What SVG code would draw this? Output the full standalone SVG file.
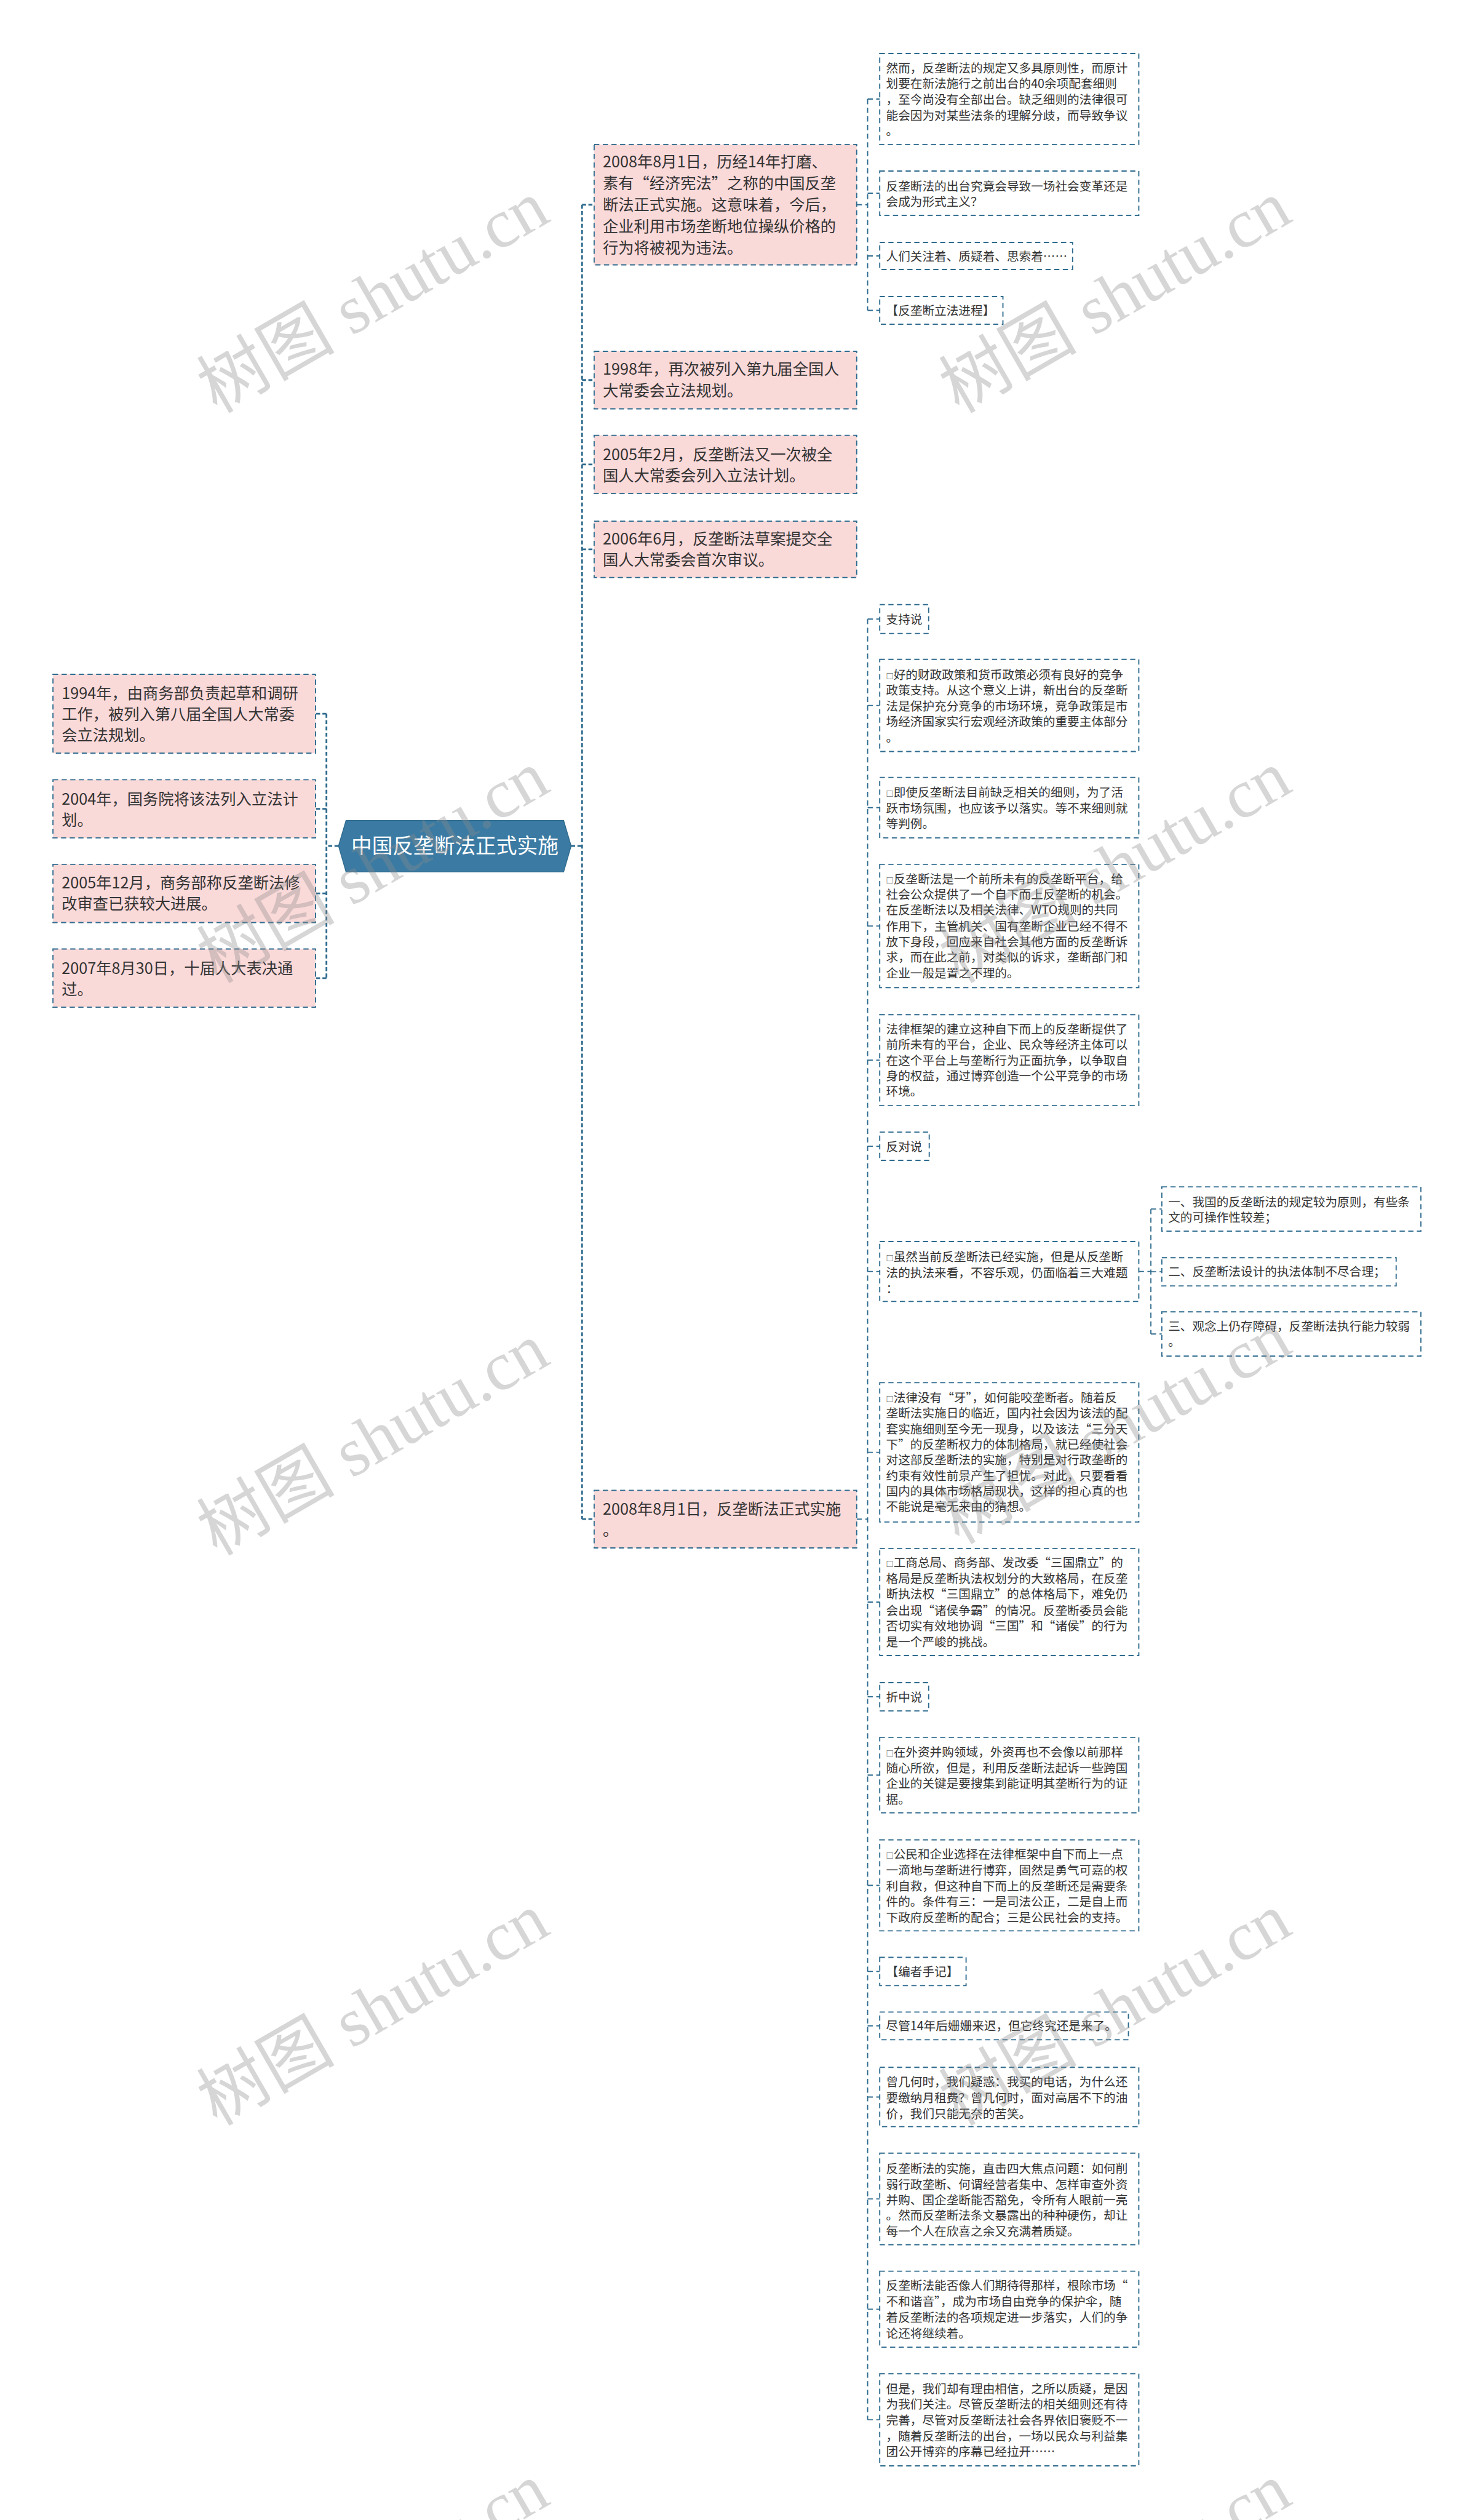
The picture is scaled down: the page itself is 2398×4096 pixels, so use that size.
<svg xmlns="http://www.w3.org/2000/svg" width="2398" height="4096" viewBox="0 0 2398 4096">
<style>
.t{font-family:"Noto Sans CJK SC","Noto Sans",sans-serif;fill:#333333;font-size:21px}
.t1{font-size:27px}
.sq{font-size:13px}
.rt{font-family:"Noto Sans CJK SC","Noto Sans",sans-serif;fill:#ffffff;font-size:36px;text-anchor:middle}
.b{fill:#ffffff;stroke:#2e6b8e;stroke-width:2;stroke-dasharray:9 6}
.p{fill:#fad9d9}
.c{fill:none;stroke:#2e6b8e;stroke-width:2;stroke-dasharray:9 6}
.c1{stroke-width:3;stroke-dasharray:7 4}
.wm{font-family:"Liberation Serif","Noto Sans CJK SC",serif;font-size:120px;fill:#8c8c8c;opacity:0.35;text-anchor:middle}
</style>
<rect x="0" y="0" width="2398" height="4096" fill="#ffffff"/>
<g transform="scale(0.936)">
<g id="connectors">
<path class="c c1" d="M588 1469 H567 M567 1239.5 V1698.5 M567 1239.5 H548 M567 1404.5 H548 M567 1551.5 H548 M567 1698.5 H548"/>
<path class="c c1" d="M992 1469 H1011 M1011 355.5 V2638 M1011 355.5 H1032 M1011 660 H1032 M1011 806.5 H1032 M1011 954 H1032 M1011 2638 H1032"/>
<path class="c" d="M1488 355.5 H1507 M1507 172 V539 M1507 172 H1528 M1507 335.5 H1528 M1507 444.5 H1528 M1507 539 H1528"/>
<path class="c" d="M1488 2638 H1507 M1507 1075 V4202 M1507 1075 H1528 M1507 1225 H1528 M1507 1402.5 H1528 M1507 1608 H1528 M1507 1841 H1528 M1507 1990.5 H1528 M1507 2208 H1528 M1507 2522 H1528 M1507 2782 H1528 M1507 2946.5 H1528 M1507 3082.5 H1528 M1507 3274 H1528 M1507 3423.5 H1528 M1507 3518 H1528 M1507 3641.5 H1528 M1507 3818.5 H1528 M1507 4010 H1528 M1507 4202 H1528"/>
<path class="c" d="M1978 2208 H1999 M1999 2099.5 V2316.5 M1999 2099.5 H2018 M1999 2208.5 H2018 M1999 2316.5 H2018"/>
</g>
<g id="root">
<polygon points="588,1469 601,1425 979,1425 992,1469 979,1514 601,1514" fill="#3b7ba3" stroke="#2e6b8e" stroke-width="1.5"/>
<text class="rt" x="790" y="1482">中国反垄断法正式实施</text>
</g>
<g id="n1994">
<rect class="b p" x="92" y="1171" width="456" height="137"/>
<text class="t t1"><tspan x="107" y="1214">1994年，由商务部负责起草和调研</tspan><tspan x="107" y="1250">工作，被列入第八届全国人大常委</tspan><tspan x="107" y="1286">会立法规划。</tspan></text>
</g>
<g id="n2004">
<rect class="b p" x="92" y="1354" width="456" height="101"/>
<text class="t t1"><tspan x="107" y="1397">2004年，国务院将该法列入立法计</tspan><tspan x="107" y="1434">划。</tspan></text>
</g>
<g id="n200512">
<rect class="b p" x="92" y="1501" width="456" height="101"/>
<text class="t t1"><tspan x="107" y="1543">2005年12月，商务部称反垄断法修</tspan><tspan x="107" y="1579">改审查已获较大进展。</tspan></text>
</g>
<g id="n2007">
<rect class="b p" x="92" y="1648" width="456" height="101"/>
<text class="t t1"><tspan x="107" y="1691">2007年8月30日，十届人大表决通</tspan><tspan x="107" y="1728">过。</tspan></text>
</g>
<g id="n2008a">
<rect class="b p" x="1032" y="251" width="456" height="209"/>
<text class="t t1"><tspan x="1047" y="291">2008年8月1日，历经14年打磨、</tspan><tspan x="1047" y="328">素有“经济宪法”之称的中国反垄</tspan><tspan x="1047" y="365">断法正式实施。这意味着，今后，</tspan><tspan x="1047" y="403">企业利用市场垄断地位操纵价格的</tspan><tspan x="1047" y="440">行为将被视为违法。</tspan></text>
</g>
<g id="n1998">
<rect class="b p" x="1032" y="610" width="456" height="100"/>
<text class="t t1"><tspan x="1047" y="651">1998年，再次被列入第九届全国人</tspan><tspan x="1047" y="688">大常委会立法规划。</tspan></text>
</g>
<g id="n20052">
<rect class="b p" x="1032" y="756" width="456" height="101"/>
<text class="t t1"><tspan x="1047" y="799">2005年2月，反垄断法又一次被全</tspan><tspan x="1047" y="836">国人大常委会列入立法计划。</tspan></text>
</g>
<g id="n2006">
<rect class="b p" x="1032" y="905" width="456" height="98"/>
<text class="t t1"><tspan x="1047" y="945">2006年6月，反垄断法草案提交全</tspan><tspan x="1047" y="982">国人大常委会首次审议。</tspan></text>
</g>
<g id="n2008b">
<rect class="b p" x="1032" y="2588" width="456" height="100"/>
<text class="t t1"><tspan x="1047" y="2630">2008年8月1日，反垄断法正式实施</tspan><tspan x="1047" y="2667">。</tspan></text>
</g>
<g id="g1a">
<rect class="b" x="1528" y="93" width="450" height="158"/>
<text class="t"><tspan x="1539" y="126">然而，反垄断法的规定又多具原则性，而原计</tspan><tspan x="1539" y="153">划要在新法施行之前出台的40余项配套细则</tspan><tspan x="1539" y="181">，至今尚没有全部出台。缺乏细则的法律很可</tspan><tspan x="1539" y="208">能会因为对某些法条的理解分歧，而导致争议</tspan><tspan x="1539" y="235">。</tspan></text>
</g>
<g id="g1b">
<rect class="b" x="1528" y="297" width="450" height="77"/>
<text class="t"><tspan x="1539" y="331">反垄断法的出台究竟会导致一场社会变革还是</tspan><tspan x="1539" y="358">会成为形式主义？</tspan></text>
</g>
<g id="g1c">
<rect class="b" x="1528" y="421" width="335" height="47"/>
<text class="t" x="1539" y="453">人们关注着、质疑着、思索着……</text>
</g>
<g id="g1d">
<rect class="b" x="1528" y="515" width="214" height="48"/>
<text class="t" x="1539" y="547">【反垄断立法进程】</text>
</g>
<g id="zhichi">
<rect class="b" x="1528" y="1050" width="85" height="50"/>
<text class="t" x="1539" y="1083">支持说</text>
</g>
<g id="s1">
<rect class="b" x="1528" y="1145" width="450" height="160"/>
<text class="t"><tspan x="1539" y="1179"><tspan class="sq">□</tspan>好的财政政策和货币政策必须有良好的竞争</tspan><tspan x="1539" y="1206">政策支持。从这个意义上讲，新出台的反垄断</tspan><tspan x="1539" y="1234">法是保护充分竞争的市场环境，竞争政策是市</tspan><tspan x="1539" y="1261">场经济国家实行宏观经济政策的重要主体部分</tspan><tspan x="1539" y="1288">。</tspan></text>
</g>
<g id="s2">
<rect class="b" x="1528" y="1350" width="450" height="105"/>
<text class="t"><tspan x="1539" y="1384"><tspan class="sq">□</tspan>即使反垄断法目前缺乏相关的细则，为了活</tspan><tspan x="1539" y="1411">跃市场氛围，也应该予以落实。等不来细则就</tspan><tspan x="1539" y="1438">等判例。</tspan></text>
</g>
<g id="s3">
<rect class="b" x="1528" y="1501" width="450" height="214"/>
<text class="t"><tspan x="1539" y="1534"><tspan class="sq">□</tspan>反垄断法是一个前所未有的反垄断平台，给</tspan><tspan x="1539" y="1561">社会公众提供了一个自下而上反垄断的机会。</tspan><tspan x="1539" y="1588">在反垄断法以及相关法律、WTO规则的共同</tspan><tspan x="1539" y="1616">作用下，主管机关、国有垄断企业已经不得不</tspan><tspan x="1539" y="1643">放下身段，回应来自社会其他方面的反垄断诉</tspan><tspan x="1539" y="1670">求，而在此之前，对类似的诉求，垄断部门和</tspan><tspan x="1539" y="1698">企业一般是置之不理的。</tspan></text>
</g>
<g id="s4">
<rect class="b" x="1528" y="1762" width="450" height="158"/>
<text class="t"><tspan x="1539" y="1795">法律框架的建立这种自下而上的反垄断提供了</tspan><tspan x="1539" y="1822">前所未有的平台，企业、民众等经济主体可以</tspan><tspan x="1539" y="1849">在这个平台上与垄断行为正面抗争，以争取自</tspan><tspan x="1539" y="1876">身的权益，通过博弈创造一个公平竞争的市场</tspan><tspan x="1539" y="1903">环境。</tspan></text>
</g>
<g id="fandui">
<rect class="b" x="1528" y="1966" width="86" height="49"/>
<text class="t" x="1539" y="1999">反对说</text>
</g>
<g id="f1">
<rect class="b" x="1528" y="2156" width="450" height="104"/>
<text class="t"><tspan x="1539" y="2190"><tspan class="sq">□</tspan>虽然当前反垄断法已经实施，但是从反垄断</tspan><tspan x="1539" y="2218">法的执法来看，不容乐观，仍面临着三大难题</tspan><tspan x="1539" y="2246">：</tspan></text>
</g>
<g id="f1a">
<rect class="b" x="2018" y="2061" width="450" height="77"/>
<text class="t"><tspan x="2029" y="2095">一、我国的反垄断法的规定较为原则，有些条</tspan><tspan x="2029" y="2122">文的可操作性较差；</tspan></text>
</g>
<g id="f1b">
<rect class="b" x="2018" y="2184" width="407" height="49"/>
<text class="t" x="2029" y="2216">二、反垄断法设计的执法体制不尽合理；</text>
</g>
<g id="f1c">
<rect class="b" x="2018" y="2278" width="450" height="77"/>
<text class="t"><tspan x="2029" y="2311">三、观念上仍存障碍，反垄断法执行能力较弱</tspan><tspan x="2029" y="2338">。</tspan></text>
</g>
<g id="f2">
<rect class="b" x="1528" y="2401" width="450" height="242"/>
<text class="t"><tspan x="1539" y="2435"><tspan class="sq">□</tspan>法律没有“牙”，如何能咬垄断者。随着反</tspan><tspan x="1539" y="2462">垄断法实施日的临近，国内社会因为该法的配</tspan><tspan x="1539" y="2489">套实施细则至今无一现身，以及该法“三分天</tspan><tspan x="1539" y="2516">下”的反垄断权力的体制格局，就已经使社会</tspan><tspan x="1539" y="2543">对这部反垄断法的实施，特别是对行政垄断的</tspan><tspan x="1539" y="2570">约束有效性前景产生了担忧。对此，只要看看</tspan><tspan x="1539" y="2597">国内的具体市场格局现状，这样的担心真的也</tspan><tspan x="1539" y="2624">不能说是毫无来由的猜想。</tspan></text>
</g>
<g id="f3">
<rect class="b" x="1528" y="2689" width="450" height="186"/>
<text class="t"><tspan x="1539" y="2721"><tspan class="sq">□</tspan>工商总局、商务部、发改委“三国鼎立”的</tspan><tspan x="1539" y="2749">格局是反垄断执法权划分的大致格局，在反垄</tspan><tspan x="1539" y="2776">断执法权“三国鼎立”的总体格局下，难免仍</tspan><tspan x="1539" y="2804">会出现“诸侯争霸”的情况。反垄断委员会能</tspan><tspan x="1539" y="2831">否切实有效地协调“三国”和“诸侯”的行为</tspan><tspan x="1539" y="2859">是一个严峻的挑战。</tspan></text>
</g>
<g id="zhezhong">
<rect class="b" x="1528" y="2922" width="85" height="49"/>
<text class="t" x="1539" y="2955">折中说</text>
</g>
<g id="z1">
<rect class="b" x="1528" y="3017" width="450" height="131"/>
<text class="t"><tspan x="1539" y="3050"><tspan class="sq">□</tspan>在外资并购领域，外资再也不会像以前那样</tspan><tspan x="1539" y="3078">随心所欲，但是，利用反垄断法起诉一些跨国</tspan><tspan x="1539" y="3105">企业的关键是要搜集到能证明其垄断行为的证</tspan><tspan x="1539" y="3132">据。</tspan></text>
</g>
<g id="z2">
<rect class="b" x="1528" y="3195" width="450" height="158"/>
<text class="t"><tspan x="1539" y="3228"><tspan class="sq">□</tspan>公民和企业选择在法律框架中自下而上一点</tspan><tspan x="1539" y="3255">一滴地与垄断进行博弈，固然是勇气可嘉的权</tspan><tspan x="1539" y="3283">利自救，但这种自下而上的反垄断还是需要条</tspan><tspan x="1539" y="3310">件的。条件有三：一是司法公正，二是自上而</tspan><tspan x="1539" y="3338">下政府反垄断的配合；三是公民社会的支持。</tspan></text>
</g>
<g id="bianzhe">
<rect class="b" x="1528" y="3399" width="150" height="49"/>
<text class="t" x="1539" y="3432">【编者手记】</text>
</g>
<g id="e1">
<rect class="b" x="1528" y="3494" width="432" height="48"/>
<text class="t" x="1539" y="3526">尽管14年后姗姗来迟，但它终究还是来了。</text>
</g>
<g id="e2">
<rect class="b" x="1528" y="3590" width="450" height="103"/>
<text class="t"><tspan x="1539" y="3623">曾几何时，我们疑惑：我买的电话，为什么还</tspan><tspan x="1539" y="3651">要缴纳月租费？曾几何时，面对高居不下的油</tspan><tspan x="1539" y="3678">价，我们只能无奈的苦笑。</tspan></text>
</g>
<g id="e3">
<rect class="b" x="1528" y="3739" width="450" height="159"/>
<text class="t"><tspan x="1539" y="3774">反垄断法的实施，直击四大焦点问题：如何削</tspan><tspan x="1539" y="3801">弱行政垄断、何谓经营者集中、怎样审查外资</tspan><tspan x="1539" y="3828">并购、国企垄断能否豁免，令所有人眼前一亮</tspan><tspan x="1539" y="3855">。然而反垄断法条文暴露出的种种硬伤，却让</tspan><tspan x="1539" y="3882">每一个人在欣喜之余又充满着质疑。</tspan></text>
</g>
<g id="e4">
<rect class="b" x="1528" y="3944" width="450" height="132"/>
<text class="t"><tspan x="1539" y="3977">反垄断法能否像人们期待得那样，根除市场“</tspan><tspan x="1539" y="4004">不和谐音”，成为市场自由竞争的保护伞，随</tspan><tspan x="1539" y="4032">着反垄断法的各项规定进一步落实，人们的争</tspan><tspan x="1539" y="4060">论还将继续着。</tspan></text>
</g>
<g id="e5">
<rect class="b" x="1528" y="4122" width="450" height="160"/>
<text class="t"><tspan x="1539" y="4156">但是，我们却有理由相信，之所以质疑，是因</tspan><tspan x="1539" y="4183">为我们关注。尽管反垄断法的相关细则还有待</tspan><tspan x="1539" y="4211">完善，尽管对反垄断法社会各界依旧褒贬不一</tspan><tspan x="1539" y="4238">，随着反垄断法的出台，一场以民众与利益集</tspan><tspan x="1539" y="4265">团公开博弈的序幕已经拉开……</tspan></text>
</g>
<g id="watermarks">
<text class="wm" transform="translate(648 516) rotate(-30)" y="40">树图 shutu.cn</text>
<text class="wm" transform="translate(1937 516) rotate(-30)" y="40">树图 shutu.cn</text>
<text class="wm" transform="translate(648 1506) rotate(-30)" y="40">树图 shutu.cn</text>
<text class="wm" transform="translate(1937 1506) rotate(-30)" y="40">树图 shutu.cn</text>
<text class="wm" transform="translate(648 2500) rotate(-30)" y="40">树图 shutu.cn</text>
<text class="wm" transform="translate(1937 2480) rotate(-30)" y="40">树图 shutu.cn</text>
<text class="wm" transform="translate(648 3490) rotate(-30)" y="40">树图 shutu.cn</text>
<text class="wm" transform="translate(1937 3490) rotate(-30)" y="40">树图 shutu.cn</text>
<text class="wm" transform="translate(648 4480) rotate(-30)" y="40">树图 shutu.cn</text>
<text class="wm" transform="translate(1937 4480) rotate(-30)" y="40">树图 shutu.cn</text>
</g>
</g>
</svg>
